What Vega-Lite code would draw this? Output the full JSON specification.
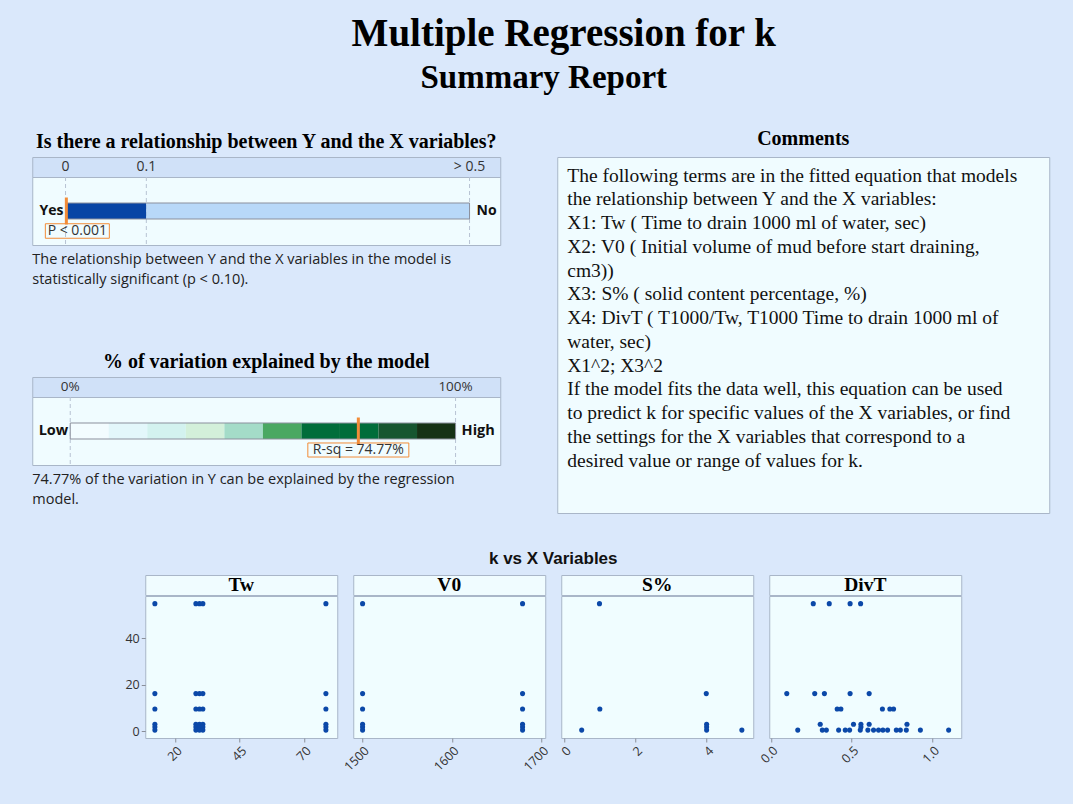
{
  "$schema": "https://vega.github.io/schema/vega-lite/v6.json",
  "padding": {"left": 31, "top": 14, "right": 24, "bottom": 30},
  "title": {
    "text": "Multiple Regression for k",
    "font": "Liberation Serif",
    "fontSize": 39,
    "fontWeight": "bold",
    "color": "#000000",
    "anchor": "middle",
    "dx": 23,
    "offset": 8
  },
  "datasets": {
    "pticks": [
      {"v": 0, "label": "0"},
      {"v": 0.1, "label": "0.1"},
      {"v": 0.5, "label": "> 0.5"}
    ],
    "pgauge": [
      {"zone": "Yes", "from": 0, "to": 0.1},
      {"zone": "No", "from": 0.1, "to": 0.5}
    ],
    "pval": [{"p": 0.001, "label": "P < 0.001"}],
    "rticks": [
      {"v": 0, "label": "0%"},
      {"v": 100, "label": "100%"}
    ],
    "rends": [
      {"end": "Low", "v": 0},
      {"end": "High", "v": 100}
    ],
    "rseg": [
      {"seg": 1, "from": 0, "to": 10},
      {"seg": 2, "from": 10, "to": 20},
      {"seg": 3, "from": 20, "to": 30},
      {"seg": 4, "from": 30, "to": 40},
      {"seg": 5, "from": 40, "to": 50},
      {"seg": 6, "from": 50, "to": 60},
      {"seg": 7, "from": 60, "to": 70},
      {"seg": 8, "from": 70, "to": 80},
      {"seg": 9, "from": 80, "to": 90},
      {"seg": 10, "from": 90, "to": 100}
    ],
    "rsq": [{"r": 74.77, "label": "R-sq = 74.77%"}],
    "panels": [
      {"name": "Tw"}, {"name": "V0"}, {"name": "S%"}, {"name": "DivT"}
    ],
    "comments": [
      {"line": 1, "text": "The following terms are in the fitted equation that models"},
      {"line": 2, "text": "the relationship between Y and the X variables:"},
      {"line": 3, "text": "X1: Tw ( Time to drain 1000 ml of water, sec)"},
      {"line": 4, "text": "X2: V0  ( Initial volume of mud before start draining,"},
      {"line": 5, "text": "cm3))"},
      {"line": 6, "text": "X3: S% ( solid content percentage, %)"},
      {"line": 7, "text": "X4: DivT ( T1000/Tw, T1000 Time to drain 1000 ml of"},
      {"line": 8, "text": "water, sec)"},
      {"line": 9, "text": "X1^2; X3^2"},
      {"line": 10, "text": "If the model fits the data well, this equation can be used"},
      {"line": 11, "text": "to predict k for specific values of the X variables, or find"},
      {"line": 12, "text": "the settings for the X variables that correspond to a"},
      {"line": 13, "text": "desired value or range of values for k."}
    ],
    "kx": [
      {"var": "Tw", "x": 12.1, "k": 54.8}, {"var": "Tw", "x": 28.0, "k": 54.8}, {"var": "Tw", "x": 29.4, "k": 54.8}, {"var": "Tw", "x": 30.7, "k": 54.8}, {"var": "Tw", "x": 78.4, "k": 54.8},
      {"var": "Tw", "x": 12.1, "k": 16.1}, {"var": "Tw", "x": 28.0, "k": 16.1}, {"var": "Tw", "x": 29.4, "k": 16.1}, {"var": "Tw", "x": 30.7, "k": 16.1}, {"var": "Tw", "x": 78.4, "k": 16.1},
      {"var": "Tw", "x": 12.1, "k": 9.5}, {"var": "Tw", "x": 28.0, "k": 9.5}, {"var": "Tw", "x": 29.4, "k": 9.5}, {"var": "Tw", "x": 30.7, "k": 9.5}, {"var": "Tw", "x": 78.4, "k": 9.5},
      {"var": "Tw", "x": 12.1, "k": 2.9}, {"var": "Tw", "x": 28.0, "k": 2.9}, {"var": "Tw", "x": 29.4, "k": 2.9}, {"var": "Tw", "x": 30.7, "k": 2.9}, {"var": "Tw", "x": 78.4, "k": 2.9},
      {"var": "Tw", "x": 12.1, "k": 1.7}, {"var": "Tw", "x": 28.0, "k": 1.7}, {"var": "Tw", "x": 29.4, "k": 1.7}, {"var": "Tw", "x": 30.7, "k": 1.7}, {"var": "Tw", "x": 78.4, "k": 1.7},
      {"var": "Tw", "x": 12.1, "k": 0.4}, {"var": "Tw", "x": 28.0, "k": 0.4}, {"var": "Tw", "x": 29.4, "k": 0.4}, {"var": "Tw", "x": 30.7, "k": 0.4}, {"var": "Tw", "x": 78.4, "k": 0.4},
      {"var": "V0", "x": 1500.4, "k": 54.8}, {"var": "V0", "x": 1678.7, "k": 54.8},
      {"var": "V0", "x": 1500.4, "k": 16.1}, {"var": "V0", "x": 1678.7, "k": 16.1},
      {"var": "V0", "x": 1500.4, "k": 9.5}, {"var": "V0", "x": 1678.7, "k": 9.5},
      {"var": "V0", "x": 1500.4, "k": 2.9}, {"var": "V0", "x": 1678.7, "k": 2.9},
      {"var": "V0", "x": 1500.4, "k": 1.7}, {"var": "V0", "x": 1678.7, "k": 1.7},
      {"var": "V0", "x": 1500.4, "k": 0.4}, {"var": "V0", "x": 1678.7, "k": 0.4},
      {"var": "S%", "x": 0.99, "k": 54.8}, {"var": "S%", "x": 1.0, "k": 9.5}, {"var": "S%", "x": 0.49, "k": 0.4},
      {"var": "S%", "x": 3.99, "k": 16.1}, {"var": "S%", "x": 4.0, "k": 2.9}, {"var": "S%", "x": 4.0, "k": 1.7}, {"var": "S%", "x": 4.0, "k": 0.4},
      {"var": "S%", "x": 4.99, "k": 0.4},
      {"var": "DivT", "x": 0.262, "k": 54.8}, {"var": "DivT", "x": 0.361, "k": 54.8}, {"var": "DivT", "x": 0.49, "k": 54.8}, {"var": "DivT", "x": 0.555, "k": 54.8},
      {"var": "DivT", "x": 0.098, "k": 16.1}, {"var": "DivT", "x": 0.271, "k": 16.1}, {"var": "DivT", "x": 0.331, "k": 16.1}, {"var": "DivT", "x": 0.49, "k": 16.1}, {"var": "DivT", "x": 0.608, "k": 16.1},
      {"var": "DivT", "x": 0.41, "k": 9.5}, {"var": "DivT", "x": 0.433, "k": 9.5}, {"var": "DivT", "x": 0.69, "k": 9.5}, {"var": "DivT", "x": 0.736, "k": 9.5}, {"var": "DivT", "x": 0.759, "k": 9.5},
      {"var": "DivT", "x": 0.305, "k": 2.9}, {"var": "DivT", "x": 0.511, "k": 2.9}, {"var": "DivT", "x": 0.557, "k": 2.9}, {"var": "DivT", "x": 0.608, "k": 2.9}, {"var": "DivT", "x": 0.842, "k": 2.9},
      {"var": "DivT", "x": 0.557, "k": 1.7},
      {"var": "DivT", "x": 0.166, "k": 0.4}, {"var": "DivT", "x": 0.318, "k": 0.4}, {"var": "DivT", "x": 0.343, "k": 0.4}, {"var": "DivT", "x": 0.419, "k": 0.4},
      {"var": "DivT", "x": 0.46, "k": 0.4}, {"var": "DivT", "x": 0.487, "k": 0.4}, {"var": "DivT", "x": 0.553, "k": 0.4}, {"var": "DivT", "x": 0.6, "k": 0.4},
      {"var": "DivT", "x": 0.635, "k": 0.4}, {"var": "DivT", "x": 0.666, "k": 0.4}, {"var": "DivT", "x": 0.693, "k": 0.4}, {"var": "DivT", "x": 0.722, "k": 0.4},
      {"var": "DivT", "x": 0.776, "k": 0.4}, {"var": "DivT", "x": 0.801, "k": 0.4}, {"var": "DivT", "x": 0.838, "k": 0.4}, {"var": "DivT", "x": 0.925, "k": 0.4},
      {"var": "DivT", "x": 1.1, "k": 0.4}
    ]
  },
  "center": true,
  "spacing": 35,
  "resolve": {"scale": {"color": "independent"}},
  "vconcat": [
    {
      "title": {
        "text": "Summary Report",
        "font": "Liberation Serif", "fontSize": 33, "fontWeight": "bold",
        "color": "#000000", "anchor": "middle", "dx": 3, "offset": 34
      },
      "resolve": {"scale": {"color": "independent"}},
      "hconcat": [
        {
          "spacing": 64,
          "resolve": {"scale": {"color": "independent"}},
          "vconcat": [
            {
              "spacing": 0,
              "bounds": "flush",
              "vconcat": [
                {
                  "width": 468,
                  "height": 20,
                  "title": {
                    "text": "Is there a relationship between Y and the X variables?",
                    "font": "Liberation Serif", "fontSize": 20, "fontWeight": "bold",
                    "color": "#000000", "anchor": "middle", "offset": 5
                  },
                  "view": {"fill": "#d0e1f8", "stroke": "#a9b6c8"},
                  "data": {"name": "pticks"},
                  "mark": {"type": "text", "font": "Open Sans", "fontSize": 14, "color": "#333333"},
                  "encoding": {
                    "x": {"field": "v", "type": "quantitative", "scale": {"domain": [-0.0412, 0.538], "nice": false, "zero": false}, "axis": null},
                    "text": {"field": "label"}
                  }
                },
                {
                  "width": 468,
                  "height": 68,
                  "title": {
                    "text": ["The relationship between Y and the X variables in the model is", "statistically significant (p < 0.10)."],
                    "orient": "bottom", "anchor": "start",
                    "font": "Open Sans", "fontSize": 14.5, "fontWeight": "normal",
                    "color": "#222222", "lineHeight": 20, "offset": 7
                  },
                  "view": {"fill": "#f0fcff", "stroke": "#a9b6c8"},
                  "layer": [
                    {
                      "data": {"name": "pticks"},
                      "mark": {"type": "rule", "color": "#b7c3d3", "strokeDash": [4, 3], "strokeWidth": 1},
                      "encoding": {
                        "x": {"field": "v", "type": "quantitative", "scale": {"domain": [-0.0412, 0.538], "nice": false, "zero": false}, "axis": null}
                      }
                    },
                    {
                      "data": {"name": "pgauge"},
                      "mark": {"type": "bar", "orient": "horizontal", "size": 16},
                      "encoding": {
                        "x": {"field": "from", "type": "quantitative", "scale": {"domain": [-0.0412, 0.538], "nice": false, "zero": false}, "axis": null},
                        "x2": {"field": "to"},
                        "color": {"field": "zone", "type": "nominal", "scale": {"domain": ["Yes", "No"], "range": ["#0845a5", "#b8d8f8"]}, "legend": null}
                      }
                    },
                    {
                      "data": {"name": "pgauge"},
                      "mark": {"type": "bar", "orient": "horizontal", "size": 16, "fill": "transparent", "stroke": "#8b8f9c", "strokeWidth": 1},
                      "encoding": {
                        "x": {"aggregate": "min", "field": "from", "type": "quantitative", "scale": {"domain": [-0.0412, 0.538], "nice": false, "zero": false}, "axis": null},
                        "x2": {"aggregate": "max", "field": "to"}
                      }
                    },
                    {
                      "data": {"name": "pval"},
                      "mark": {"type": "tick", "size": 27, "thickness": 3, "color": "#f28c38", "opacity": 1},
                      "encoding": {
                        "x": {"field": "p", "type": "quantitative", "scale": {"domain": [-0.0412, 0.538], "nice": false, "zero": false}, "axis": null}
                      }
                    },
                    {
                      "data": {"name": "pval"},
                      "mark": {"type": "point", "shape": "M-1,-0.227H1V0.227H-1Z", "size": 4096, "filled": false, "stroke": "#f28c38", "strokeWidth": 1, "opacity": 1, "xOffset": 11, "yOffset": 20},
                      "encoding": {
                        "x": {"field": "p", "type": "quantitative", "scale": {"domain": [-0.0412, 0.538], "nice": false, "zero": false}, "axis": null}
                      }
                    },
                    {
                      "data": {"name": "pval"},
                      "mark": {"type": "text", "font": "Open Sans", "fontSize": 14, "color": "#333333", "dx": 11, "dy": 20},
                      "encoding": {
                        "x": {"field": "p", "type": "quantitative", "scale": {"domain": [-0.0412, 0.538], "nice": false, "zero": false}, "axis": null},
                        "text": {"field": "label"}
                      }
                    },
                    {
                      "data": {"name": "pgauge"},
                      "transform": [{"filter": "datum.zone === 'Yes'"}],
                      "mark": {"type": "text", "align": "right", "dx": -2, "font": "Open Sans", "fontSize": 14, "fontWeight": "bold", "color": "#111111"},
                      "encoding": {
                        "x": {"field": "from", "type": "quantitative", "scale": {"domain": [-0.0412, 0.538], "nice": false, "zero": false}, "axis": null},
                        "text": {"field": "zone"}
                      }
                    },
                    {
                      "data": {"name": "pgauge"},
                      "transform": [{"filter": "datum.zone === 'No'"}],
                      "mark": {"type": "text", "align": "left", "dx": 7, "font": "Open Sans", "fontSize": 14, "fontWeight": "bold", "color": "#111111"},
                      "encoding": {
                        "x": {"field": "to", "type": "quantitative", "scale": {"domain": [-0.0412, 0.538], "nice": false, "zero": false}, "axis": null},
                        "text": {"field": "zone"}
                      }
                    }
                  ]
                }
              ]
            },
            {
              "spacing": 0,
              "bounds": "flush",
              "vconcat": [
                {
                  "width": 468,
                  "height": 20,
                  "title": {
                    "text": "% of variation explained by the model",
                    "font": "Liberation Serif", "fontSize": 20, "fontWeight": "bold",
                    "color": "#000000", "anchor": "middle", "offset": 5
                  },
                  "view": {"fill": "#d0e1f8", "stroke": "#a9b6c8"},
                  "data": {"name": "rticks"},
                  "mark": {"type": "text", "font": "Open Sans", "fontSize": 13.5, "color": "#333333"},
                  "encoding": {
                    "x": {"field": "v", "type": "quantitative", "scale": {"domain": [-9.86, 111.6], "nice": false, "zero": false}, "axis": null},
                    "text": {"field": "label"}
                  }
                },
                {
                  "width": 468,
                  "height": 68,
                  "title": {
                    "text": ["74.77% of the variation in Y can be explained by the regression", "model."],
                    "orient": "bottom", "anchor": "start",
                    "font": "Open Sans", "fontSize": 14.5, "fontWeight": "normal",
                    "color": "#222222", "lineHeight": 20, "offset": 7
                  },
                  "view": {"fill": "#f0fcff", "stroke": "#a9b6c8"},
                  "layer": [
                    {
                      "data": {"name": "rticks"},
                      "mark": {"type": "rule", "color": "#b7c3d3", "strokeDash": [4, 3], "strokeWidth": 1},
                      "encoding": {
                        "x": {"field": "v", "type": "quantitative", "scale": {"domain": [-9.86, 111.6], "nice": false, "zero": false}, "axis": null}
                      }
                    },
                    {
                      "data": {"name": "rseg"},
                      "mark": {"type": "bar", "orient": "horizontal", "size": 16},
                      "encoding": {
                        "x": {"field": "from", "type": "quantitative", "scale": {"domain": [-9.86, 111.6], "nice": false, "zero": false}, "axis": null},
                        "x2": {"field": "to"},
                        "color": {
                          "field": "seg", "type": "ordinal",
                          "scale": {"domain": [1, 2, 3, 4, 5, 6, 7, 8, 9, 10], "range": ["#f3fcff", "#e3f7fb", "#d3f2ef", "#d3f0da", "#a4dcc8", "#4aa862", "#006d3a", "#006d3a", "#175630", "#163215"]},
                          "legend": null
                        }
                      }
                    },
                    {
                      "data": {"name": "rseg"},
                      "mark": {"type": "bar", "orient": "horizontal", "size": 16, "fill": "transparent", "stroke": "#8b8f9c", "strokeWidth": 1},
                      "encoding": {
                        "x": {"aggregate": "min", "field": "from", "type": "quantitative", "scale": {"domain": [-9.86, 111.6], "nice": false, "zero": false}, "axis": null},
                        "x2": {"aggregate": "max", "field": "to"}
                      }
                    },
                    {
                      "data": {"name": "rsq"},
                      "mark": {"type": "tick", "size": 27, "thickness": 3, "color": "#f28c38", "opacity": 1},
                      "encoding": {
                        "x": {"field": "r", "type": "quantitative", "scale": {"domain": [-9.86, 111.6], "nice": false, "zero": false}, "axis": null}
                      }
                    },
                    {
                      "data": {"name": "rsq"},
                      "mark": {"type": "point", "shape": "M-1,-0.139H1V0.139H-1Z", "size": 10201, "filled": false, "stroke": "#f28c38", "strokeWidth": 1, "opacity": 1, "yOffset": 19},
                      "encoding": {
                        "x": {"field": "r", "type": "quantitative", "scale": {"domain": [-9.86, 111.6], "nice": false, "zero": false}, "axis": null}
                      }
                    },
                    {
                      "data": {"name": "rsq"},
                      "mark": {"type": "text", "font": "Open Sans", "fontSize": 14, "color": "#333333", "dy": 19},
                      "encoding": {
                        "x": {"field": "r", "type": "quantitative", "scale": {"domain": [-9.86, 111.6], "nice": false, "zero": false}, "axis": null},
                        "text": {"field": "label"}
                      }
                    },
                    {
                      "data": {"name": "rends"},
                      "transform": [{"filter": "datum.end === 'Low'"}],
                      "mark": {"type": "text", "align": "right", "dx": -2, "font": "Open Sans", "fontSize": 14.5, "fontWeight": "bold", "color": "#111111"},
                      "encoding": {
                        "x": {"field": "v", "type": "quantitative", "scale": {"domain": [-9.86, 111.6], "nice": false, "zero": false}, "axis": null},
                        "text": {"field": "end"}
                      }
                    },
                    {
                      "data": {"name": "rends"},
                      "transform": [{"filter": "datum.end === 'High'"}],
                      "mark": {"type": "text", "align": "left", "dx": 6, "font": "Open Sans", "fontSize": 14.5, "fontWeight": "bold", "color": "#111111"},
                      "encoding": {
                        "x": {"field": "v", "type": "quantitative", "scale": {"domain": [-9.86, 111.6], "nice": false, "zero": false}, "axis": null},
                        "text": {"field": "end"}
                      }
                    }
                  ]
                }
              ]
            }
          ]
        },
        {
          "width": 492,
          "height": 356,
          "title": {
            "text": "Comments",
            "font": "Liberation Serif", "fontSize": 20, "fontWeight": "bold",
            "color": "#000000", "anchor": "middle", "offset": 8
          },
          "view": {"fill": "#f0fcff", "stroke": "#a9b6c8"},
          "data": {"name": "comments"},
          "mark": {"type": "text", "align": "left", "baseline": "middle", "dx": 10, "font": "Liberation Serif", "fontSize": 19.5, "color": "#111111"},
          "encoding": {
            "x": {"datum": 0, "type": "quantitative", "scale": {"domain": [0, 1]}, "axis": null},
            "y": {"field": "line", "type": "quantitative", "scale": {"domain": [0.221, 15.21], "reverse": true, "nice": false, "zero": false}, "axis": null},
            "text": {"field": "text"}
          }
        }
      ],
      "spacing": 55
    },
    {
      "spacing": 1,
      "hconcat": [
        {
          "width": 1,
          "height": 1,
          "data": {"values": []},
          "mark": {"type": "text"},
          "encoding": {}
        },
        {
          "spacing": -1,
          "vconcat": [
            {
              "title": {
                "text": "k vs X Variables",
                "font": "Liberation Sans", "fontSize": 17, "fontWeight": "bold",
                "color": "#111111", "anchor": "middle", "offset": 7
              },
              "spacing": 16,
              "bounds": "flush",
              "hconcat": [
                {
                  "width": 192, "height": 20,
                  "view": {"fill": "#f0fcff", "stroke": "#a9b6c8"},
                  "data": {"name": "panels"},
                  "transform": [{"filter": "datum.name === 'Tw'"}],
                  "mark": {"type": "text", "font": "Liberation Serif", "fontSize": 19.5, "fontWeight": "bold", "color": "#000000"},
                  "encoding": {"text": {"field": "name"}}
                },
                {
                  "width": 192, "height": 20,
                  "view": {"fill": "#f0fcff", "stroke": "#a9b6c8"},
                  "data": {"name": "panels"},
                  "transform": [{"filter": "datum.name === 'V0'"}],
                  "mark": {"type": "text", "font": "Liberation Serif", "fontSize": 19.5, "fontWeight": "bold", "color": "#000000"},
                  "encoding": {"text": {"field": "name"}}
                },
                {
                  "width": 192, "height": 20,
                  "view": {"fill": "#f0fcff", "stroke": "#a9b6c8"},
                  "data": {"name": "panels"},
                  "transform": [{"filter": "datum.name === 'S%'"}],
                  "mark": {"type": "text", "font": "Liberation Serif", "fontSize": 19.5, "fontWeight": "bold", "color": "#000000"},
                  "encoding": {"text": {"field": "name"}}
                },
                {
                  "width": 192, "height": 20,
                  "view": {"fill": "#f0fcff", "stroke": "#a9b6c8"},
                  "data": {"name": "panels"},
                  "transform": [{"filter": "datum.name === 'DivT'"}],
                  "mark": {"type": "text", "font": "Liberation Serif", "fontSize": 19.5, "fontWeight": "bold", "color": "#000000"},
                  "encoding": {"text": {"field": "name"}}
                }
              ]
            },
            {
              "spacing": 16,
              "bounds": "flush",
              "hconcat": [
                {
                  "width": 192, "height": 142,
                  "view": {"fill": "#f0fdff", "stroke": "#a9b6c8"},
                  "data": {"name": "kx"},
                  "transform": [{"filter": "datum.var === 'Tw'"}],
                  "mark": {"type": "circle", "size": 26, "color": "#0b48a8", "opacity": 1},
                  "encoding": {
                    "x": {"field": "x", "type": "quantitative", "scale": {"domain": [8.37, 82.8], "nice": false, "zero": false}, "axis": {"values": [20, 45, 70], "labelAngle": -45}},
                    "y": {"field": "k", "type": "quantitative", "scale": {"domain": [-3, 58.1], "nice": false, "zero": false}, "axis": {"values": [0, 20, 40], "minExtent": 22}}
                  }
                },
                {
                  "width": 192, "height": 142,
                  "view": {"fill": "#f0fdff", "stroke": "#a9b6c8"},
                  "data": {"name": "kx"},
                  "transform": [{"filter": "datum.var === 'V0'"}],
                  "mark": {"type": "circle", "size": 26, "color": "#0b48a8", "opacity": 1},
                  "encoding": {
                    "x": {"field": "x", "type": "quantitative", "scale": {"domain": [1490, 1704], "nice": false, "zero": false}, "axis": {"values": [1500, 1600, 1700], "format": "d", "labelAngle": -45}},
                    "y": {"field": "k", "type": "quantitative", "scale": {"domain": [-3, 58.1], "nice": false, "zero": false}, "axis": null}
                  }
                },
                {
                  "width": 192, "height": 142,
                  "view": {"fill": "#f0fdff", "stroke": "#a9b6c8"},
                  "data": {"name": "kx"},
                  "transform": [{"filter": "datum.var === 'S%'"}],
                  "mark": {"type": "circle", "size": 26, "color": "#0b48a8", "opacity": 1},
                  "encoding": {
                    "x": {"field": "x", "type": "quantitative", "scale": {"domain": [-0.084, 5.31], "nice": false, "zero": false}, "axis": {"values": [0, 2, 4], "labelAngle": -45}},
                    "y": {"field": "k", "type": "quantitative", "scale": {"domain": [-3, 58.1], "nice": false, "zero": false}, "axis": null}
                  }
                },
                {
                  "width": 192, "height": 142,
                  "view": {"fill": "#f0fdff", "stroke": "#a9b6c8"},
                  "data": {"name": "kx"},
                  "transform": [{"filter": "datum.var === 'DivT'"}],
                  "mark": {"type": "circle", "size": 26, "color": "#0b48a8", "opacity": 1},
                  "encoding": {
                    "x": {"field": "x", "type": "quantitative", "scale": {"domain": [-0.0105, 1.178], "nice": false, "zero": false}, "axis": {"values": [0, 0.5, 1], "format": ".1f", "labelAngle": -45}},
                    "y": {"field": "k", "type": "quantitative", "scale": {"domain": [-3, 58.1], "nice": false, "zero": false}, "axis": null}
                  }
                }
              ]
            }
          ]
        }
      ]
    }
  ],
  "config": {
    "background": "#dae8fb",
    "view": {"stroke": null},
    "axis": {
      "labelFont": "Open Sans",
      "labelFontSize": 12.5,
      "labelColor": "#333333",
      "tickColor": "#8a8f99",
      "tickSize": 4,
      "labelPadding": 2,
      "domain": false,
      "grid": false,
      "title": null
    }
  }
}
